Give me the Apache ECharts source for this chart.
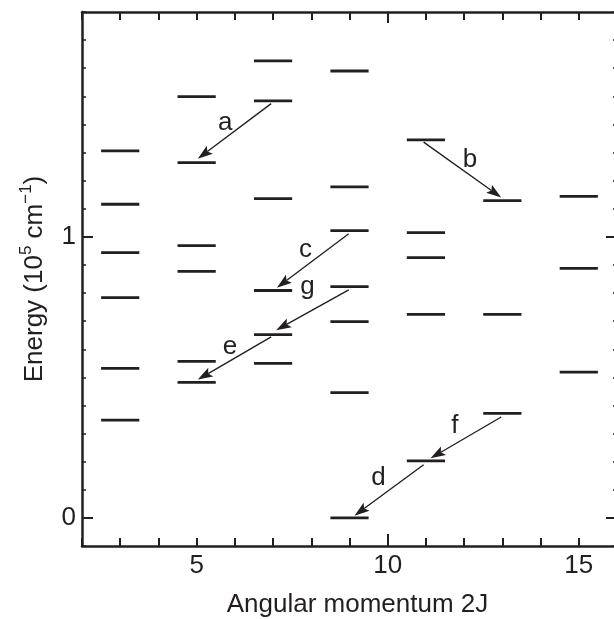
<!DOCTYPE html>
<html>
<head>
<meta charset="utf-8">
<script src="https://cdn.jsdelivr.net/npm/echarts@6/dist/echarts.min.js"></script>
<style>
  html, body { margin: 0; padding: 0; background: #fff; }
  #main { width: 614px; height: 619px; }
</style>
</head>
<body>
<div id="main"></div>
<script>
// level energies (10^5 cm^-1) for each 2J
var twoJ = [3, 5, 7, 9, 11, 13, 15];
var levelsJ3 = [0.348, 0.532, 0.784, 0.944, 1.116, 1.306];
var levelsJ5 = [0.482, 0.557, 0.877, 0.969, 1.264, 1.499];
var levelsJ7 = [0.550, 0.652, 0.809, 1.136, 1.484, 1.626];
var levelsJ9 = [0, 0.446, 0.698, 0.823, 1.022, 1.178, 1.590];
var levelsJ11 = [0.203, 0.724, 0.926, 1.015, 1.345];
var levelsJ13 = [0.372, 0.724, 1.129];
var levelsJ15 = [0.519, 0.888, 1.144];
var levelsByJ = [levelsJ3, levelsJ5, levelsJ7, levelsJ9, levelsJ11, levelsJ13, levelsJ15];

// transitions (arrows): start and end points [2J, E], and where the letter sits
var arrowNames = ['a', 'b', 'c', 'd', 'e', 'f', 'g'];
var arrowFrom = [[6.95, 1.474], [10.94, 1.337], [8.98, 1.011], [10.94, 0.189], [6.95, 0.644], [12.97, 0.359], [8.98, 0.811]];
var arrowTo = [[5.03, 1.278], [12.97, 1.140], [7.10, 0.819], [9.13, 0.008], [5.03, 0.492], [11.12, 0.212], [7.08, 0.668]];
var labelAt = [[5.75, 1.407], [12.15, 1.273], [7.85, 0.955], [9.76, 0.142], [5.87, 0.609], [11.76, 0.327], [7.90, 0.822]];

// axes
var xLabelValues = [5, 10, 15];
var xMajorTicks = [10];
var yLabelValues = [0, 1];

var ink = '#231f20';
var font = "'Liberation Sans', Arial, Helvetica, sans-serif";

var levelData = [];
for (var i = 0; i < twoJ.length; i++) {
  levelsByJ[i].forEach(function (e) { levelData.push([twoJ[i], e]); });
}
var arrowData = arrowFrom.map(function (p, i) {
  return [p[0], p[1], arrowTo[i][0], arrowTo[i][1]];
});
var labelData = labelAt.map(function (p, i) { return [p[0], p[1], arrowNames[i]]; });

var myChart = echarts.init(document.getElementById('main'));

function tickAxis(grid, pos, len, custom) {
  var ax = {
    type: 'value', gridIndex: grid, position: pos,
    axisLine: { show: grid === 0, onZero: false, lineStyle: { color: ink, width: 2.5 } },
    axisTick: { show: true, inside: true, length: len, lineStyle: { color: ink, width: 2 } },
    axisLabel: { show: false },
    splitLine: { show: false }
  };
  if (custom) ax.axisTick.customValues = custom;
  return ax;
}

var xBottom = tickAxis(0, 'bottom', 8);
xBottom.axisLabel = { show: true, customValues: xLabelValues, fontSize: 26, color: ink, fontFamily: font, margin: 7 };
xBottom.name = 'Angular momentum 2J';
xBottom.nameLocation = 'middle';
xBottom.nameGap = 46;
xBottom.nameTextStyle = { fontSize: 26, color: ink, fontFamily: font, padding: [0, 0, 0, 16] };

var yLeft = tickAxis(0, 'left', 4);
yLeft.axisTick.lineStyle.width = 1.5;
yLeft.axisLabel = { show: true, customValues: yLabelValues, fontSize: 26, color: ink, fontFamily: font, margin: 6 };
yLeft.name = '{t|Energy (10}{s|5}{t| cm}{s|\u22121}{t|)}';
yLeft.nameLocation = 'middle';
yLeft.nameGap = 34;
yLeft.nameTextStyle = {
  color: ink, fontFamily: font,
  rich: {
    t: { fontSize: 26, fontFamily: font, color: ink, lineHeight: 30, verticalAlign: 'bottom' },
    s: { fontSize: 17, fontFamily: font, color: ink, lineHeight: 16, verticalAlign: 'top' }
  }
};
var yRight = tickAxis(0, 'right', 4);
yRight.axisTick.lineStyle.width = 1.5;

var xAxes = [xBottom, tickAxis(0, 'top', 8), tickAxis(1, 'bottom', 12, xMajorTicks), tickAxis(1, 'top', 11, xMajorTicks)];
var yAxes = [yLeft, yRight, tickAxis(1, 'left', 11, yLabelValues), tickAxis(1, 'right', 11, yLabelValues)];
xAxes.forEach(function (a) { a.min = 2; a.max = 16; a.interval = 1; });
yAxes.forEach(function (a) { a.min = -0.1; a.max = 1.8; a.interval = 0.1; });

option = {
  animation: false,
  backgroundColor: '#fff',
  grid: [
    { left: 82, right: -3, top: 12, bottom: 73, containLabel: false, outerBoundsMode: 'none' },
    { left: 82, right: -3, top: 12, bottom: 73, containLabel: false, outerBoundsMode: 'none' }
  ],
  xAxis: xAxes,
  yAxis: yAxes,
  series: [
    {
      type: 'custom',
      name: 'levels',
      xAxisIndex: 0, yAxisIndex: 0,
      data: levelData,
      encode: { x: 0, y: 1 },
      renderItem: function (params, api) {
        var p1 = api.coord([api.value(0) - 0.5, api.value(1)]);
        var p2 = api.coord([api.value(0) + 0.5, api.value(1)]);
        return {
          type: 'line',
          shape: { x1: p1[0], y1: p1[1], x2: p2[0], y2: p2[1] },
          style: { stroke: ink, lineWidth: 2.8 }
        };
      }
    },
    {
      type: 'custom',
      name: 'transitions',
      xAxisIndex: 0, yAxisIndex: 0,
      data: arrowData,
      encode: { x: [0, 2], y: [1, 3] },
      renderItem: function (params, api) {
        var a = api.coord([api.value(0), api.value(1)]);
        var b = api.coord([api.value(2), api.value(3)]);
        var dx = b[0] - a[0], dy = b[1] - a[1];
        var len = Math.sqrt(dx * dx + dy * dy);
        var ux = dx / len, uy = dy / len;
        var hl = 15, hw = 5, notch = 12;
        var bx = b[0] - ux * hl, by = b[1] - uy * hl;
        var nx = b[0] - ux * notch, ny = b[1] - uy * notch;
        return {
          type: 'group',
          children: [
            {
              type: 'line',
              shape: { x1: a[0], y1: a[1], x2: nx, y2: ny },
              style: { stroke: ink, lineWidth: 1.4 }
            },
            {
              type: 'polygon',
              shape: { points: [[b[0], b[1]], [bx - uy * hw, by + ux * hw], [nx, ny], [bx + uy * hw, by - ux * hw]] },
              style: { fill: ink }
            }
          ]
        };
      }
    },
    {
      type: 'custom',
      name: 'labels',
      xAxisIndex: 0, yAxisIndex: 0,
      data: labelData,
      encode: { x: 0, y: 1 },
      renderItem: function (params, api) {
        var p = api.coord([api.value(0), api.value(1)]);
        return {
          type: 'text',
          x: p[0], y: p[1],
          style: {
            text: labelData[params.dataIndex][2],
            fontSize: 26, fontFamily: font, fill: ink,
            align: 'center', verticalAlign: 'middle'
          }
        };
      }
    }
  ]
};

myChart.setOption(option);
</script>
</body>
</html>
